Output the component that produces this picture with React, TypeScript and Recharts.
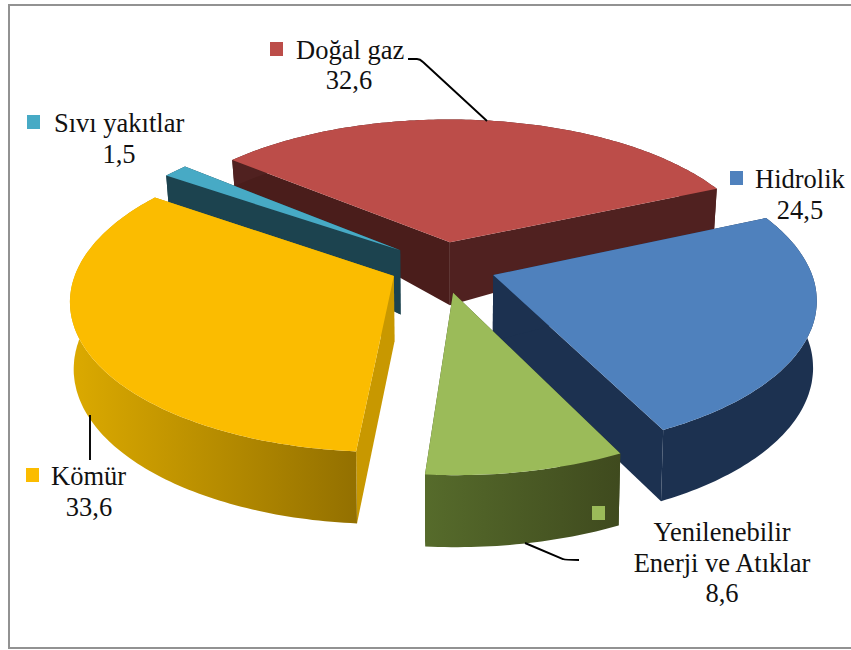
import { PieChart, Pie } from "recharts";

// values as printed on the chart, red slice first (clockwise)
const names = ["Doğal gaz", "Hidrolik", "Yenilenebilir Enerji ve Atıklar", "Kömür", "Sıvı yakıtlar"];
const values = [32.6, 24.5, 8.6, 33.6, 1.5];
const valueLabels = ["32,6", "24,5", "8,6", "33,6", "1,5"];
const topColors = ["#bc4d49", "#4f81bd", "#9bbb59", "#fbbc00", "#47aac5"];

const pieData = names.map((name, i) => ({ name, value: values[i], fill: topColors[i] }));

const WIDTH = 851;
const HEIGHT = 650;
const CX = 445;
const CY = 272;
const RADIUS = 318;
const TILT = 0.4686;
const PERSPECTIVE = 0.147;
const START_ANGLE = 140.2;

// exploded offset of each slice on the pie plane (in radii), plus wall colours
const sliceStyles: Record<string, any> = {
  "Doğal gaz": { du: 0.016, dv: -0.205, startWall: "#4a1d1b", endWall: "#502120", rimFrom: "#502120", rimTo: "#502120" },
  Hidrolik: { du: 0.151, dv: 0.02, startWall: "#1c3150", endWall: "#1c3150", rimFrom: "#1c3150", rimTo: "#1c3150" },
  "Yenilenebilir Enerji ve Atıklar": { du: 0.025, dv: 0.136, startWall: "#3f4a1e", endWall: "#3f4a1e", rimFrom: "#566b2b", rimTo: "#3f4a1e" },
  Kömür: { du: -0.16, dv: 0.026, startWall: "#c89800", endWall: "#c89800", rimFrom: "#dcaa00", rimTo: "#937000" },
  "Sıvı yakıtlar": { du: -0.144, dv: -0.149, startWall: "#1c434f", endWall: "#1c434f", rimFrom: "#1c434f", rimTo: "#1c434f" },
};

// label placement: marker square, first-line x, text lines
const labelLayout: Record<string, any> = {
  "Doğal gaz": { marker: [270, 42], lines: [[296, 59, "start", "Doğal gaz"], [349, 89, "middle", null]], leader: "M408 59 L417 59 Q420 59 423 62 L487 121" },
  Hidrolik: { marker: [730, 171], lines: [[755, 188, "start", "Hidrolik"], [800, 219, "middle", null]] },
  "Yenilenebilir Enerji ve Atıklar": {
    marker: [592, 506],
    lines: [[722, 541, "middle", "Yenilenebilir"], [722, 572, "middle", "Enerji ve Atıklar"], [722, 602, "middle", null]],
    leader: "M525 543 L563 559 Q565 560 579 560",
  },
  Kömür: { marker: [26, 468], lines: [[51, 485, "start", "Kömür"], [89, 516, "middle", null]], leader: "M90 415 L90 460" },
  "Sıvı yakıtlar": { marker: [27, 115], lines: [[54, 132, "start", "Sıvı yakıtlar"], [119, 163, "middle", null]] },
};

const heightStops = [[160, 26], [190, 42], [245, 64], [276, 66], [450, 72]];

function wallHeight(y: number) {
  if (y <= heightStops[0][0]) return heightStops[0][1];
  for (let i = 1; i < heightStops.length; i++) {
    const [y1, h1] = heightStops[i];
    const [y0, h0] = heightStops[i - 1];
    if (y <= y1) return h0 + ((h1 - h0) * (y - y0)) / (y1 - y0);
  }
  return heightStops[heightStops.length - 1][1];
}

function toPath(points: number[][]) {
  return points.map((p, i) => `${i ? "L" : "M"}${p[0].toFixed(1)} ${p[1].toFixed(1)}`).join(" ") + " Z";
}

function Slice3D(props: any) {
  const { cx, cy, outerRadius, startAngle, endAngle, fill, name } = props;
  const st = sliceStyles[name];
  if (!st) return <g />;

  const project = (u: number, v: number) => {
    const s = 1 / (1 - PERSPECTIVE * v);
    return [cx + outerRadius * u * s, cy + outerRadius * TILT * v * s];
  };
  const down = (p: number[]) => [p[0] - 0.01 * (p[0] - cx), p[1] + wallHeight(p[1])];

  // recharts angles are counter-clockwise, flip them for the screen
  const from = -startAngle;
  const to = -endAngle;
  const steps = Math.max(2, Math.ceil(Math.abs(to - from)));
  const rim: number[][] = [];
  for (let i = 0; i <= steps; i++) {
    const a = ((from + ((to - from) * i) / steps) * Math.PI) / 180;
    rim.push(project(st.du + Math.cos(a), st.dv + Math.sin(a)));
  }
  const apex = project(st.du, st.dv);
  const gradId = "rim-" + values[names.indexOf(name)];

  return (
    <g>
      <defs>
        <linearGradient id={gradId} x1="0" x2="1" y1="0" y2="0">
          <stop offset="0%" stopColor={st.rimFrom} />
          <stop offset="100%" stopColor={st.rimTo} />
        </linearGradient>
      </defs>
      <path d={toPath([apex, rim[rim.length - 1], down(rim[rim.length - 1]), down(apex)])} fill={st.endWall} />
      <path d={toPath([apex, rim[0], down(rim[0]), down(apex)])} fill={st.startWall} />
      <path d={toPath([...rim, ...rim.map(down).reverse()])} fill={`url(#${gradId})`} />
      <path d={toPath([apex, ...rim])} fill={fill} />
    </g>
  );
}

function SliceExceptCoal(props: any) {
  return props.name === "Kömür" ? <g /> : <Slice3D {...props} />;
}

function SliceCoalOnly(props: any) {
  return props.name === "Kömür" ? <Slice3D {...props} /> : <g />;
}

function SliceLabel(props: any) {
  const i = props.index;
  const layout = labelLayout[names[i]];
  return (
    <g>
      {layout.leader && <path d={layout.leader} fill="none" stroke="#000" strokeWidth={1.9} />}
      <rect x={layout.marker[0]} y={layout.marker[1]} width={13} height={14} fill={topColors[i]} />
      {layout.lines.map((l: any, k: number) => (
        <text key={k} x={l[0]} y={l[1]} textAnchor={l[2]} fontFamily="'Liberation Serif', serif" fontSize={26.5} fill="#111">
          {l[3] ?? valueLabels[i]}
        </text>
      ))}
    </g>
  );
}

export default function App() {
  return (
    <div style={{ position: "absolute", left: 0, top: 0, width: WIDTH, height: HEIGHT, background: "#fff", overflow: "hidden" }}>
      <div
        style={{
          position: "absolute",
          left: 8,
          top: 4,
          width: WIDTH - 8,
          height: 641,
          border: "2px solid #929292",
          borderRight: "none",
        }}
      />
      <div style={{ position: "absolute", left: 0, top: 0 }}>
        <PieChart width={WIDTH} height={HEIGHT} margin={{ top: 0, right: 0, bottom: 0, left: 0 }}>
          <Pie
            data={pieData}
            dataKey="value"
            nameKey="name"
            cx={CX}
            cy={CY}
            innerRadius={0}
            outerRadius={RADIUS}
            startAngle={START_ANGLE}
            endAngle={START_ANGLE - 360}
            stroke="none"
            shape={SliceExceptCoal}
            label={SliceLabel}
            labelLine={false}
            isAnimationActive={false}
          />
          <Pie
            data={pieData}
            dataKey="value"
            nameKey="name"
            cx={CX}
            cy={CY}
            innerRadius={0}
            outerRadius={RADIUS}
            startAngle={START_ANGLE}
            endAngle={START_ANGLE - 360}
            stroke="none"
            shape={SliceCoalOnly}
            label={false}
            labelLine={false}
            isAnimationActive={false}
          />
        </PieChart>
      </div>
    </div>
  );
}
